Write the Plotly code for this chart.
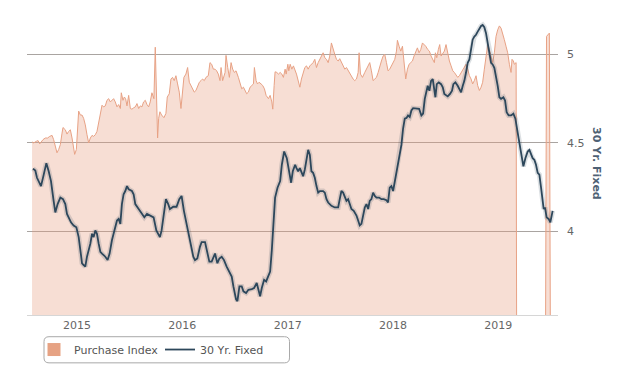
import plotly.graph_objects as go
from datetime import datetime

# ---------------- data (time as decimal years) ----------------
fixed_t = [2014.582,2014.604,2014.620,2014.652,2014.658,2014.684,2014.709,2014.731,2014.753,2014.778,2014.794,2014.816,2014.842,2014.867,2014.889,2014.905,2014.921,2014.943,2014.968,2014.994,
           2015.016,2015.032,2015.048,2015.063,2015.079,2015.095,2015.127,2015.143,2015.158,2015.174,2015.190,2015.206,2015.222,2015.238,2015.269,2015.291,2015.310,2015.332,2015.355,2015.380,
           2015.396,2015.412,2015.427,2015.443,2015.459,2015.475,2015.491,2015.522,2015.538,2015.554,2015.586,2015.617,2015.640,2015.665,2015.696,2015.728,2015.754,2015.776,
           2015.788,2015.804,2015.820,2015.845,2015.867,2015.883,2015.915,2015.946,2015.972,2015.994,2016.016,2016.041,2016.073,2016.105,2016.121,2016.143,2016.168,2016.184,2016.216,2016.231,
           2016.257,2016.279,2016.295,2016.311,2016.333,2016.352,2016.374,2016.396,2016.421,2016.453,2016.469,2016.485,2016.510,2016.523,2016.542,2016.564,2016.580,2016.605,2016.627,2016.659,
           2016.681,2016.706,2016.722,2016.738,2016.754,2016.776,2016.795,2016.817,2016.833,2016.849,2016.865,2016.880,2016.903,2016.928,2016.944,2016.966,2016.991,2017.016,2017.032,2017.048,2017.070,
           2017.083,2017.099,2017.115,2017.130,2017.146,2017.162,2017.178,2017.194,2017.210,2017.225,2017.241,2017.257,2017.273,2017.289,2017.305,2017.336,2017.352,2017.368,2017.384,2017.415,
           2017.447,2017.479,2017.494,2017.510,2017.526,2017.542,2017.558,2017.574,2017.589,2017.605,2017.627,2017.653,2017.669,2017.684,2017.700,2017.716,2017.732,2017.748,2017.764,2017.779,
           2017.795,2017.811,2017.827,2017.843,2017.868,2017.890,2017.912,2017.938,2017.953,2017.969,2017.985,2018.001,2018.017,2018.033,2018.048,2018.064,2018.080,2018.096,2018.112,2018.128,
           2018.143,2018.159,2018.175,2018.191,2018.223,2018.248,2018.270,2018.286,2018.302,2018.318,
           2018.330,2018.346,2018.362,2018.378,2018.393,2018.403,2018.416,2018.435,2018.457,2018.473,2018.488,2018.504,2018.520,2018.542,2018.561,2018.574,2018.593,2018.615,2018.631,2018.647,
           2018.663,2018.678,2018.694,2018.710,2018.726,2018.742,2018.757,2018.773,2018.789,2018.805,2018.821,2018.837,2018.852,2018.868,2018.884,2018.900,2018.916,2018.932,2018.947,2018.963,
           2018.979,2018.995,2019.011,2019.027,2019.049,2019.065,2019.080,2019.099,2019.122,2019.144,2019.163,2019.175,2019.194,2019.210,2019.226,2019.239,2019.258,2019.280,2019.296,2019.311,
           2019.327,2019.343,2019.359,2019.375,2019.391,2019.407,2019.422,2019.432,2019.444,2019.460,2019.479,2019.495,2019.508,2019.517]
fixed_v = [4.354,4.343,4.302,4.264,4.255,4.320,4.385,4.339,4.283,4.171,4.106,4.153,4.190,4.181,4.153,4.097,4.078,4.050,4.032,4.022,
           3.966,3.892,3.818,3.808,3.799,3.855,3.929,3.985,3.966,4.004,3.985,3.929,3.883,3.873,3.855,3.836,3.873,3.948,4.004,4.060,
           4.069,4.041,4.153,4.209,4.227,4.255,4.237,4.227,4.209,4.153,4.125,4.097,4.078,4.097,4.088,4.078,4.004,3.976,
           3.966,4.004,4.078,4.181,4.153,4.125,4.138,4.138,4.181,4.199,4.115,4.041,3.966,3.855,3.836,3.845,3.911,3.938,3.938,3.892,
           3.827,3.827,3.855,3.873,3.818,3.845,3.855,3.836,3.799,3.762,3.743,3.687,3.613,3.603,3.687,3.687,3.659,3.650,3.668,3.672,
           3.678,3.706,3.668,3.631,3.678,3.724,3.715,3.743,3.771,3.892,4.078,4.190,4.246,4.283,4.376,4.451,4.413,4.320,4.274,4.339,4.376,
           4.357,4.339,4.357,4.330,4.311,4.348,4.413,4.460,4.432,4.339,4.330,4.302,4.255,4.218,4.227,4.227,4.218,4.181,4.162,4.143,
           4.134,4.134,4.181,4.227,4.218,4.190,4.171,4.181,4.153,4.125,4.115,4.088,4.060,4.032,4.041,4.088,4.134,4.153,4.125,4.171,
           4.181,4.218,4.199,4.190,4.190,4.181,4.181,4.175,4.162,4.246,4.255,4.227,4.283,4.339,4.395,4.432,4.488,4.581,4.637,4.641,
           4.655,4.646,4.683,4.696,4.693,4.693,4.655,4.665,4.749,4.795,
           4.823,4.795,4.851,4.860,4.795,4.758,4.832,4.842,4.832,4.814,4.777,4.767,4.763,4.777,4.795,4.832,4.842,4.823,4.805,4.786,
           4.823,4.851,4.898,4.953,4.972,5.019,5.084,5.102,5.112,5.130,5.149,5.162,5.168,5.155,5.121,5.074,5.009,4.953,4.944,4.925,
           4.879,4.823,4.758,4.749,4.758,4.739,4.674,4.655,4.655,4.665,4.637,4.600,4.525,4.469,4.395,4.367,4.413,4.451,4.460,4.432,
           4.413,4.404,4.376,4.330,4.320,4.246,4.171,4.125,4.134,4.078,4.069,4.050,4.088,4.115]

purchase_t = [2014.573,2014.589,2014.614,2014.630,2014.646,2014.658,2014.677,2014.699,2014.721,2014.741,2014.763,2014.778,2014.794,2014.810,2014.826,2014.842,2014.858,2014.867,2014.889,2014.905,
              2014.921,2014.937,2014.953,2014.968,2014.978,2014.994,2015.006,2015.016,2015.032,2015.048,2015.063,2015.079,2015.095,2015.111,2015.127,2015.143,2015.158,2015.174,2015.190,2015.206,
              2015.222,2015.238,2015.253,2015.269,2015.285,2015.301,2015.317,2015.332,2015.348,2015.364,2015.380,2015.396,2015.412,2015.421,2015.437,2015.450,2015.462,2015.475,2015.491,2015.507,
              2015.522,2015.538,2015.554,2015.570,2015.586,2015.602,2015.617,2015.633,2015.649,2015.665,2015.681,2015.696,2015.712,2015.731,2015.744,2015.766,2015.776,2015.788,
              2015.804,2015.826,2015.845,2015.858,2015.877,2015.893,2015.908,2015.924,2015.940,2015.956,2015.972,2015.988,2016.003,2016.016,2016.035,2016.051,2016.067,2016.083,2016.098,2016.114,
              2016.130,2016.146,2016.162,2016.178,2016.193,2016.209,2016.225,2016.247,2016.263,2016.279,2016.295,2016.311,2016.326,2016.342,2016.358,2016.368,2016.383,2016.406,2016.415,2016.431,
              2016.447,2016.463,2016.478,2016.494,2016.510,2016.532,2016.548,2016.564,2016.580,2016.595,2016.611,2016.627,2016.643,2016.659,2016.675,2016.684,2016.700,2016.713,2016.728,2016.747,
              2016.763,2016.779,2016.795,2016.817,2016.833,2016.849,2016.858,2016.871,2016.880,2016.896,2016.912,2016.928,2016.944,2016.959,2016.975,2016.985,2017.001,2017.010,2017.023,2017.039,2017.054,
              2017.083,2017.099,2017.115,2017.130,2017.146,2017.162,2017.178,2017.194,2017.210,2017.225,2017.241,2017.257,2017.273,2017.289,2017.305,2017.320,2017.336,2017.352,2017.368,2017.384,
              2017.399,2017.415,2017.431,2017.447,2017.463,2017.479,2017.494,2017.510,2017.526,2017.542,2017.558,2017.574,2017.589,2017.605,2017.621,2017.637,2017.653,2017.669,2017.678,2017.691,
              2017.710,2017.732,2017.748,2017.764,2017.779,2017.795,2017.811,2017.827,2017.843,2017.859,2017.874,2017.890,2017.906,2017.922,2017.938,2017.953,2017.969,2017.985,2018.001,2018.017,
              2018.033,2018.042,2018.058,2018.074,2018.090,2018.105,2018.121,2018.137,2018.153,2018.169,2018.185,2018.200,2018.216,2018.232,2018.248,2018.264,2018.280,2018.295,2018.311,
              2018.330,2018.346,2018.362,2018.378,2018.393,2018.403,2018.416,2018.431,2018.444,2018.457,2018.473,2018.488,2018.504,2018.520,2018.536,2018.552,2018.568,2018.583,2018.599,2018.615,
              2018.631,2018.647,2018.663,2018.678,2018.694,2018.710,2018.726,2018.742,2018.757,2018.773,2018.789,2018.805,2018.821,2018.837,2018.852,2018.868,2018.884,2018.900,2018.916,2018.932,
              2018.947,2018.963,2018.979,2018.995,2019.011,2019.027,2019.042,2019.058,2019.074,2019.090,2019.106,2019.122,2019.131,2019.144,2019.153,2019.170,2019.178,
              2019.444,2019.459,2019.486,2019.501,2019.520]
purchase_v = [225.6,225.0,226.0,226.4,224.4,225.6,227.0,228.0,228.0,229.0,229.6,227.0,222.0,219.0,221.0,224.0,231.0,234.4,233.0,230.4,
              232.0,233.0,228.0,222.0,218.0,221.0,232.0,244.4,242.0,242.0,240.0,236.0,230.0,225.0,228.0,229.6,229.0,230.0,232.0,238.0,
              243.0,248.0,247.0,247.6,251.0,252.0,250.0,251.0,252.0,250.0,247.0,248.4,246.0,255.6,251.0,253.0,252.0,247.6,254.0,246.0,
              245.6,246.4,247.0,249.0,246.0,247.6,247.0,250.0,251.0,248.4,247.0,250.0,255.6,252.0,283.4,228.0,240.0,244.0,
              242.0,240.4,243.0,253.0,255.0,264.0,265.0,263.0,266.0,261.0,256.0,246.0,256.0,265.0,267.0,271.0,262.0,260.0,258.0,256.0,
              257.0,259.0,262.0,263.0,264.0,263.0,265.0,266.0,274.0,273.0,270.0,270.0,269.0,267.0,263.0,271.0,263.0,268.0,278.4,271.0,
              265.0,274.0,270.0,268.0,269.0,265.0,262.0,258.0,259.0,257.0,255.0,256.0,259.0,260.0,261.0,271.0,263.0,261.0,262.0,261.0,
              260.0,258.0,254.0,252.0,254.0,250.0,245.6,260.0,268.4,268.0,267.0,268.0,267.0,265.0,270.0,267.0,273.0,269.0,273.0,270.0,272.0,
              267.0,263.0,259.0,264.0,268.0,271.0,272.0,270.0,272.0,273.0,274.0,276.0,271.0,274.0,276.0,278.0,280.0,277.0,276.0,274.0,
              278.0,286.0,282.0,279.0,276.0,275.0,276.4,274.0,272.0,270.0,271.0,269.0,268.0,266.0,264.0,263.0,264.0,268.0,280.0,267.0,
              265.0,268.0,270.0,272.0,274.0,269.0,263.0,264.0,265.0,268.0,272.0,275.0,278.0,279.0,274.0,269.0,270.0,272.0,273.0,276.0,
              281.0,287.6,284.0,281.0,284.0,274.0,264.0,270.0,273.0,274.0,275.0,278.0,281.0,283.0,280.0,282.0,286.0,285.0,284.0,
              282.0,281.0,278.0,276.0,274.0,280.0,277.0,282.0,285.0,278.0,280.0,281.0,285.0,279.0,275.0,272.0,269.0,268.0,266.0,265.0,
              266.0,268.0,270.0,271.0,273.0,270.0,266.0,264.0,261.0,263.0,266.0,260.0,257.0,259.0,262.0,270.0,278.0,285.0,282.0,277.0,
              274.0,280.0,290.0,294.0,296.4,295.0,292.0,288.0,284.0,280.0,273.0,268.0,276.0,275.0,273.0,274.0,0.0,
              0.0,290.0,292.0,0.0,0.0]

tick_years = [2015, 2016, 2017, 2018, 2019]
rate_ticks = [4, 4.5, 5]


def to_date(t):
    y = int(t)
    a, b = datetime(y, 1, 1), datetime(y + 1, 1, 1)
    return a + (b - a) * (t - y)


purchase_x = [to_date(t) for t in purchase_t]
fixed_x = [to_date(t) for t in fixed_t]

# ---------------- geometry helpers (layout only) ----------------
# the page body has an 8px margin, so the figure is sized to the visible area
OFF = 8
W, H = 620, 368
ML, MR, MT, MB = 19, 70, 12, 57
PW, PH = W - ML - MR, H - MT - MB


def px(x):
    return (x - OFF - ML) / PW


def py(y):
    return (H - MB - (y - OFF)) / PH


fig = go.Figure()
fig.add_trace(go.Scatter(
    x=purchase_x, y=purchase_v, mode="lines", yaxis="y",
    line=dict(color="#e8a285", width=1), fill="tozeroy",
    fillcolor="rgba(230,156,124,0.33)", showlegend=False, hoverinfo="skip"))
fig.add_trace(go.Scatter(
    x=[None], y=[None], mode="markers", name="Purchase Index",
    marker=dict(symbol="square", size=13, color="#e6a283")))
fig.add_trace(go.Scatter(
    x=fixed_x, y=fixed_v, mode="lines", yaxis="y2",
    line=dict(color="rgba(40,60,80,0.16)", width=5), showlegend=False, hoverinfo="skip"))
fig.add_trace(go.Scatter(
    x=fixed_x, y=fixed_v, mode="lines", yaxis="y2", name="30 Yr. Fixed",
    line=dict(color="#2d475b", width=1.8)))

# rounded legend box
x0, x1, y0, y1 = px(44), px(289.5), py(367.5), py(341)
rx, ry = 5 / PW, 5 / PH
path = (f"M{x0+rx},{y1} L{x1-rx},{y1} Q{x1},{y1} {x1},{y1-ry} L{x1},{y0+ry} Q{x1},{y0} {x1-rx},{y0} "
        f"L{x0+rx},{y0} Q{x0},{y0} {x0},{y0+ry} L{x0},{y1-ry} Q{x0},{y1} {x0+rx},{y1} Z")

fig.update_layout(
    width=W, height=H,
    margin=dict(l=ML, r=MR, t=MT, b=MB),
    paper_bgcolor="white", plot_bgcolor="white",
    font=dict(family="DejaVu Sans", size=11, color="#666666"),
    xaxis=dict(type="date", range=[to_date(2014.525), to_date(2019.568)],
               tickvals=[datetime(y, 1, 1) for y in tick_years],
               ticktext=[str(y) for y in tick_years],
               showgrid=False, zeroline=False, showline=True, linecolor="#d6d6d6", linewidth=1,
               ticks="", tickfont=dict(size=11, color="#666666")),
    yaxis=dict(range=[120, 300], visible=False, showgrid=False, zeroline=False),
    yaxis2=dict(overlaying="y", side="right", range=[3.525, 5.1955],
                tickvals=rate_ticks, ticktext=["4", "4.5", "5"],
                showgrid=True, gridcolor="#a9a4a1", gridwidth=1, zeroline=False,
                showline=False, ticks="", ticklabelstandoff=8,
                tickfont=dict(size=11, color="#666666")),
    legend=dict(orientation="h", x=px(34), xanchor="left", y=py(354), yanchor="middle",
                bgcolor="rgba(0,0,0,0)", font=dict(family="DejaVu Sans", size=11, color="#555555"),
                itemwidth=30, entrywidth=81, entrywidthmode="pixels"),
    shapes=[
        dict(type="path", path=path, xref="paper", yref="paper",
             line=dict(color="#a9a9a9", width=1), fillcolor="rgba(0,0,0,0)"),
    ],
    annotations=[dict(text="<b>30 Yr. Fixed</b>", x=px(597), y=py(165), xref="paper", yref="paper",
                      xanchor="center", yanchor="middle",
                      showarrow=False, textangle=90,
                      font=dict(family="DejaVu Sans", size=11, color="#4e6174"))],
)

fig.write_html("out.html")
